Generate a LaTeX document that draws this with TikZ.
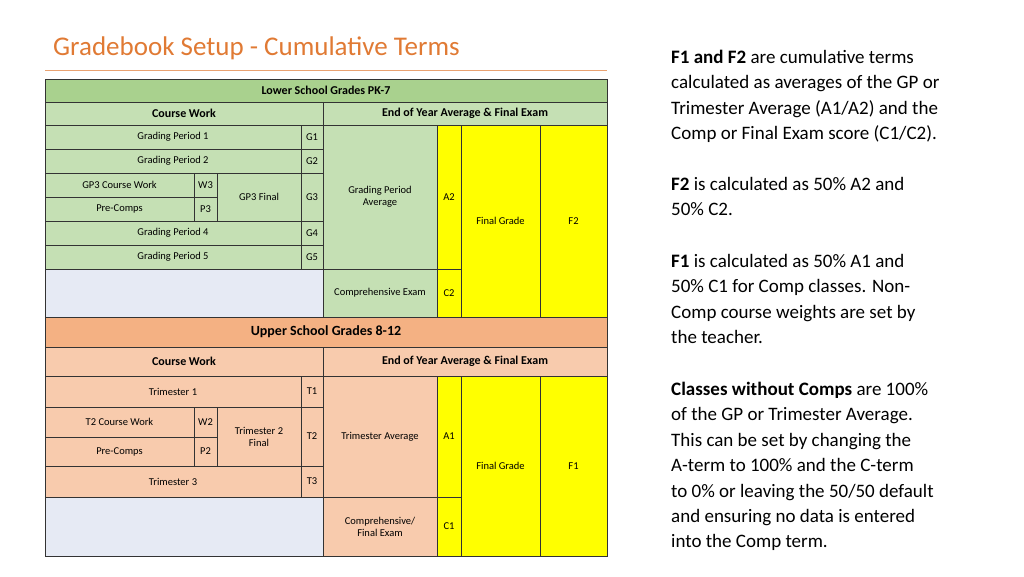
\documentclass[tikz,border=0pt]{standalone}
\usepackage{fontspec}
\setmainfont{Carlito}
\definecolor{gA}{RGB}{197,224,180}
\definecolor{gH}{RGB}{169,209,142}
\definecolor{oA}{RGB}{248,203,173}
\definecolor{oH}{RGB}{244,177,131}
\definecolor{emp}{RGB}{230,234,244}
\definecolor{yel}{RGB}{255,255,0}
\definecolor{ttl}{RGB}{224,122,52}
\newcommand{\mycell}[7]{%
  \node[cellbox,fill=#5,minimum width={(#3-#1)*1pt},minimum height={(#4-#2)*1pt},font=#7] (n#1x#2) at ({(#1+#3)/2},{(#2+#4)/2}) {#6};}
\tikzset{cellbox/.style={draw=black!80,line width=0.8pt,inner sep=0pt,align=center}}
\begin{document}
\begin{tikzpicture}[x=1pt,y=-1pt]
\useasboundingbox (0,0) rectangle (1024,576);
\node[anchor=base west,text=ttl,font=\fontsize{27}{30}\selectfont,inner sep=0] (title) at (53,55) {Gradebook Setup - Cumulative Terms};
\draw[ttl!70,line width=0.8pt] (45,70) -- (607,70);
\def\sm{\fontsize{10.5}{12}\selectfont}
\def\hd{\fontsize{12}{14}\selectfont\bfseries}
% lower school
\mycell{45}{79}{607}{102}{gH}{Lower School Grades PK-7}{\hd}
\mycell{45}{102}{323}{125}{gA}{Course Work}{\hd}
\mycell{323}{102}{607}{125}{gA}{End of Year Average \& Final Exam}{\hd}
\mycell{45}{125}{301}{149}{gA}{Grading Period 1}{\sm}
\mycell{301}{125}{323}{149}{gA}{G1}{\sm}
\mycell{45}{149}{301}{173}{gA}{Grading Period 2}{\sm}
\mycell{301}{149}{323}{173}{gA}{G2}{\sm}
\mycell{45}{173}{194}{197}{gA}{GP3 Course Work}{\sm}
\mycell{194}{173}{217}{197}{gA}{W3}{\sm}
\mycell{45}{197}{194}{221}{gA}{Pre-Comps}{\sm}
\mycell{194}{197}{217}{221}{gA}{P3}{\sm}
\mycell{217}{173}{301}{221}{gA}{GP3 Final}{\sm}
\mycell{301}{173}{323}{221}{gA}{G3}{\sm}
\mycell{45}{221}{301}{245}{gA}{Grading Period 4}{\sm}
\mycell{301}{221}{323}{245}{gA}{G4}{\sm}
\mycell{45}{245}{301}{269}{gA}{Grading Period 5}{\sm}
\mycell{301}{245}{323}{269}{gA}{G5}{\sm}
\mycell{45}{269}{323}{317}{emp}{}{\sm}
\mycell{323}{125}{437}{269}{gA}{Grading Period\\Average}{\sm}
\mycell{437}{125}{461}{269}{yel}{A2}{\sm}
\mycell{323}{269}{437}{317}{gA}{Comprehensive Exam}{\sm}
\mycell{437}{269}{461}{317}{yel}{C2}{\sm}
\mycell{461}{125}{540}{317}{yel}{Final Grade}{\sm}
\mycell{540}{125}{607}{317}{yel}{F2}{\sm}
% upper school
\mycell{45}{317}{607}{347}{oH}{Upper School Grades 8-12}{\fontsize{14}{16}\selectfont\bfseries}
\mycell{45}{347}{323}{376}{oA}{Course Work}{\hd}
\mycell{323}{347}{607}{376}{oA}{End of Year Average \& Final Exam}{\hd}
\mycell{45}{376}{301}{407}{oA}{Trimester 1}{\sm}
\mycell{301}{376}{323}{407}{oA}{T1}{\sm}
\mycell{45}{407}{194}{437}{oA}{T2 Course Work}{\sm}
\mycell{194}{407}{217}{437}{oA}{W2}{\sm}
\mycell{45}{437}{194}{466}{oA}{Pre-Comps}{\sm}
\mycell{194}{437}{217}{466}{oA}{P2}{\sm}
\mycell{217}{407}{301}{466}{oA}{Trimester 2\\Final}{\sm}
\mycell{301}{407}{323}{466}{oA}{T2}{\sm}
\mycell{45}{466}{301}{497}{oA}{Trimester 3}{\sm}
\mycell{301}{466}{323}{497}{oA}{T3}{\sm}
\mycell{45}{497}{323}{556}{emp}{}{\sm}
\mycell{323}{376}{437}{497}{oA}{Trimester Average}{\sm}
\mycell{437}{376}{461}{497}{yel}{A1}{\sm}
\mycell{323}{497}{437}{556}{oA}{Comprehensive/\\Final Exam}{\sm}
\mycell{437}{497}{461}{556}{yel}{C1}{\sm}
\mycell{461}{376}{540}{556}{yel}{Final Grade}{\sm}
\mycell{540}{376}{607}{556}{yel}{F1}{\sm}
% right text
\tikzset{para/.style={anchor=north west,align=left,inner sep=0,font=\fontsize{19}{25.4}\selectfont}}
\node[para] (p1) at (671,50) {\textbf{F1 and F2} are cumulative terms\\calculated as averages of the GP or\\Trimester Average (A1/A2) and the\\Comp or Final Exam score (C1/C2).};
\node[para] (p2) at (671,177) {\textbf{F2} is calculated as 50\% A2 and\\50\% C2.};
\node[para] (p3) at (671,254) {\textbf{F1} is calculated as 50\% A1 and\\50\% C1 for Comp classes. Non-\\Comp course weights are set by\\the teacher.};
\node[para] (p4) at (671,382) {\textbf{Classes without Comps} are 100\%\\of the GP or Trimester Average.\\This can be set by changing the\\A-term to 100\% and the C-term\\to 0\% or leaving the 50/50 default\\and ensuring no data is entered\\into the Comp term.};
\end{tikzpicture}
\end{document}
